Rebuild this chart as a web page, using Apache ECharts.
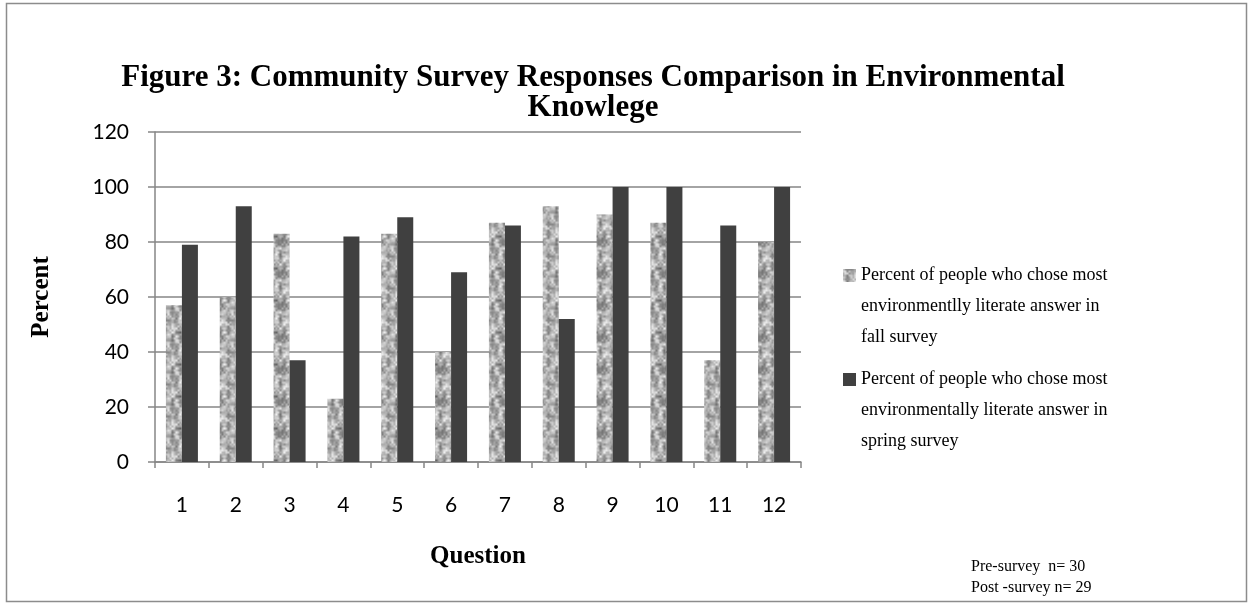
<!DOCTYPE html>
<html>
<head>
<meta charset="utf-8">
<script src="https://cdn.jsdelivr.net/npm/echarts@6/dist/echarts.min.js"></script>
<style>
  html, body { margin: 0; padding: 0; background: #fff; }
  #chart { width: 1253px; height: 605px; }
</style>
</head>
<body>
<div id="chart"></div>
<script>
// question numbers on the x axis
var questions = ['1', '2', '3', '4', '5', '6', '7', '8', '9', '10', '11', '12']
// percent choosing most environmentally literate answer
var fallValues = [57, 60, 83, 23, 83, 40, 87, 93, 90, 87, 37, 80]
var springValues = [79, 93, 37, 82, 89, 69, 86, 52, 100, 100, 86, 100]
var seriesNames = [
  'Percent of people who chose most\nenvironmentlly literate answer in\nfall survey',
  'Percent of people who chose most\nenvironmentally literate answer in\nspring survey'
]
var footNotes = ['Pre-survey  n= 30', 'Post -survey n= 29']

// mottled grey texture for the fall bars: tileable value noise from a fixed hash
function makeTexture() {
  var s = 32
  var c = document.createElement('canvas')
  c.width = s
  c.height = s
  var ctx = c.getContext('2d')
  function hash(i, j, n) {
    i = ((i % n) + n) % n
    j = ((j % n) + n) % n
    var h = Math.sin(i * 127.1 + j * 311.7 + n * 74.7) * 43758.5453
    return h - Math.floor(h)
  }
  function noise(x, y, n) {
    var cell = s / n
    var fx = x / cell, fy = y / cell
    var i = Math.floor(fx), j = Math.floor(fy)
    var tx = fx - i, ty = fy - j
    tx = tx * tx * (3 - 2 * tx)
    ty = ty * ty * (3 - 2 * ty)
    var a = hash(i, j, n), b = hash(i + 1, j, n)
    var d = hash(i, j + 1, n), e = hash(i + 1, j + 1, n)
    return (a * (1 - tx) + b * tx) * (1 - ty) + (d * (1 - tx) + e * tx) * ty
  }
  for (var y = 0; y < s; y++) {
    for (var x = 0; x < s; x++) {
      var v = 0.6 * noise(x, y, 8) + 0.4 * noise(x, y, 16)
      var g = Math.round(100 + v * 150)
      g = Math.max(90, Math.min(238, g))
      ctx.fillStyle = 'rgb(' + g + ',' + g + ',' + g + ')'
      ctx.fillRect(x, y, 1, 1)
    }
  }
  return c
}

var chart = echarts.init(document.getElementById('chart'))
var gridColor = '#868686'
var serif = '"Liberation Serif", "DejaVu Serif", serif'
var sans = 'Lato, "Open Sans", sans-serif'

function legendLabel(name) {
  // two empty lines first so the icon sits beside the first text line
  return '\n\n' + name
}

chart.setOption({
  animation: false,
  backgroundColor: '#fff',
  title: {
    text: 'Figure 3: Community Survey Responses Comparison in Environmental\nKnowlege',
    left: 588,
    top: 58,
    textAlign: 'center',
    textStyle: {
      fontFamily: serif,
      fontWeight: 'bold',
      fontSize: 31,
      lineHeight: 30,
      color: '#000'
    }
  },
  grid: {
    left: 155,
    right: 452,
    top: 132,
    bottom: 143,
    containLabel: false
  },
  legend: [{
    data: [seriesNames[0]],
    formatter: legendLabel,
    orient: 'vertical',
    left: 843,
    top: 198,
    padding: 0,
    itemWidth: 13,
    itemHeight: 13,
    icon: 'rect',
    selectedMode: false,
    textStyle: {
      fontFamily: serif,
      fontSize: 18,
      lineHeight: 31,
      color: '#000'
    }
  }, {
    data: [seriesNames[1]],
    formatter: legendLabel,
    orient: 'vertical',
    left: 843,
    top: 302,
    padding: 0,
    itemWidth: 13,
    itemHeight: 13,
    icon: 'rect',
    selectedMode: false,
    textStyle: {
      fontFamily: serif,
      fontSize: 18,
      lineHeight: 31,
      color: '#000'
    }
  }],
  xAxis: {
    type: 'category',
    data: questions,
    name: 'Question',
    nameLocation: 'middle',
    nameGap: 82,
    nameTextStyle: {
      fontFamily: serif,
      fontWeight: 'bold',
      fontSize: 25,
      color: '#000'
    },
    axisLine: { lineStyle: { color: gridColor, width: 1.5 } },
    axisTick: { show: true, length: 6, lineStyle: { color: gridColor, width: 1.5 } },
    axisLabel: {
      margin: 33,
      fontFamily: sans,
      fontSize: 21,
      color: '#000'
    }
  },
  yAxis: {
    type: 'value',
    min: 0,
    max: 120,
    interval: 20,
    name: 'Percent',
    nameLocation: 'middle',
    nameGap: 101,
    nameRotate: 90,
    nameTextStyle: {
      fontFamily: serif,
      fontWeight: 'bold',
      fontSize: 25,
      color: '#000'
    },
    axisLine: { show: true, lineStyle: { color: gridColor, width: 1.5 } },
    axisTick: { show: true, length: 7, lineStyle: { color: gridColor, width: 1.5 } },
    splitLine: { show: true, lineStyle: { color: gridColor, width: 1.5 } },
    axisLabel: {
      margin: 26,
      fontFamily: sans,
      fontSize: 21,
      color: '#000'
    }
  },
  series: [{
    name: seriesNames[0],
    type: 'bar',
    data: fallValues,
    barWidth: 16,
    barGap: '0%',
    itemStyle: {
      color: { image: makeTexture(), repeat: 'repeat' }
    }
  }, {
    name: seriesNames[1],
    type: 'bar',
    data: springValues,
    barWidth: 16,
    barGap: '0%',
    itemStyle: { color: '#404040' }
  }],
  graphic: [{
    type: 'rect',
    shape: { x: 6.5, y: 3.5, width: 1240, height: 598 },
    style: { fill: 'none', stroke: '#8c8c8c', lineWidth: 1.5 },
    silent: true,
    z: -1
  }, {
    type: 'text',
    left: 971,
    top: 556,
    style: {
      text: footNotes.join('\n'),
      fontFamily: serif,
      fontSize: 16,
      lineHeight: 21,
      fill: '#000'
    }
  }]
})
</script>
</body>
</html>
